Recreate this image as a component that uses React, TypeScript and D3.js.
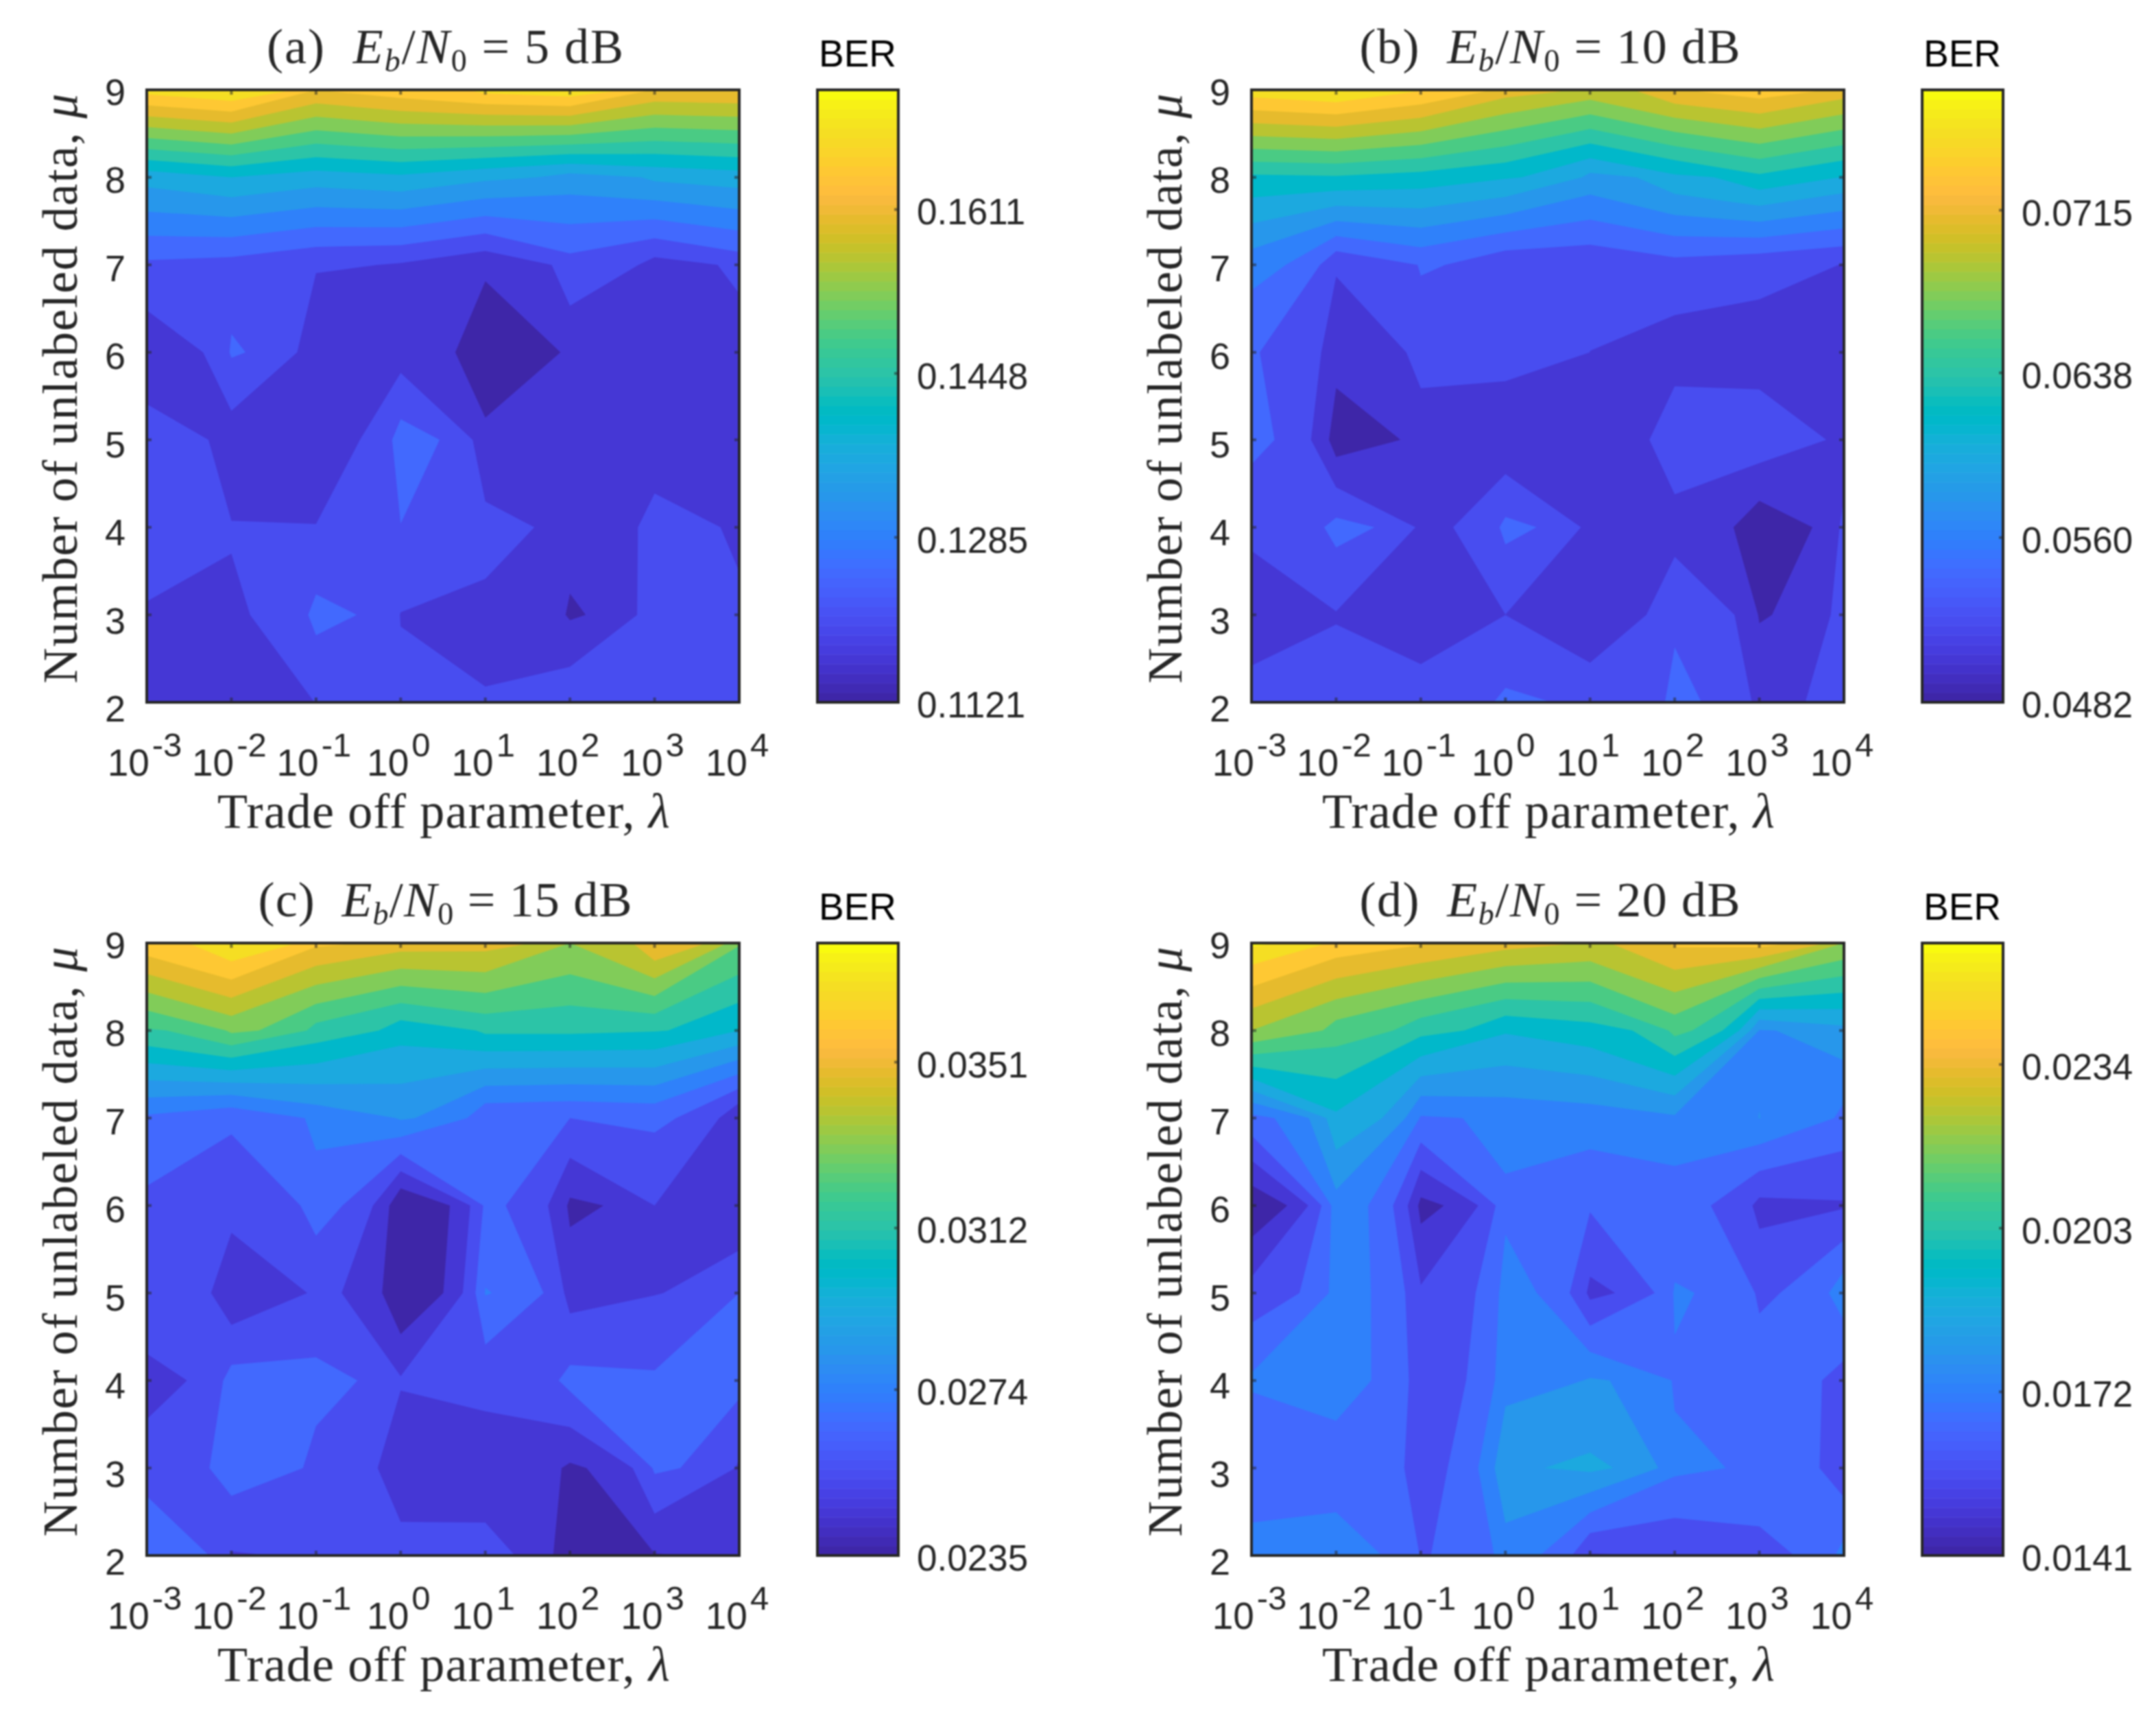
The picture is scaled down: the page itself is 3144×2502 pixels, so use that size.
import React from 'react';
import * as d3 from 'd3';

// rows run from mu = 9 (first) down to mu = 2, columns from lambda 1e-3 to 1e4
const lambdaExp = [-3, -2, -1, 0, 1, 2, 3, 4];
const muTicks = [2, 3, 4, 5, 6, 7, 8, 9];

const berA = [
  0.1706, 0.173, 0.1649, 0.1675, 0.1702, 0.1718, 0.1645, 0.1649,
  0.1381, 0.1405, 0.1385, 0.1397, 0.1373, 0.1348, 0.1373, 0.1385,
  0.1235, 0.1227, 0.1206, 0.1198, 0.117, 0.1227, 0.1186, 0.1218,
  0.1172, 0.1247, 0.1166, 0.1184, 0.1125, 0.1174, 0.1178, 0.117,
  0.1223, 0.118, 0.1182, 0.1261, 0.1174, 0.117, 0.1174, 0.1174,
  0.1231, 0.1204, 0.1203, 0.1242, 0.1214, 0.1176, 0.122, 0.1188,
  0.1197, 0.1198, 0.1255, 0.1201, 0.1194, 0.1157, 0.1235, 0.1216,
  0.1182, 0.1186, 0.1203, 0.121, 0.1204, 0.1233, 0.1223, 0.1227,
];
const berB = [
  0.07638, 0.0772, 0.07541, 0.07233, 0.07078, 0.07329, 0.07445, 0.07252,
  0.06325, 0.06345, 0.06287, 0.0619, 0.0592, 0.06132, 0.06325, 0.06152,
  0.05669, 0.05225, 0.05418, 0.05245, 0.05245, 0.05331, 0.05264, 0.05196,
  0.05409, 0.05088, 0.05274, 0.05283, 0.05206, 0.05115, 0.05119, 0.0509,
  0.05453, 0.04905, 0.0511, 0.05052, 0.0509, 0.05351, 0.05326, 0.05119,
  0.05264, 0.05461, 0.05162, 0.05447, 0.05129, 0.05119, 0.04878, 0.05254,
  0.05052, 0.05196, 0.05071, 0.05206, 0.0509, 0.0538, 0.04999, 0.05312,
  0.05318, 0.05293, 0.05312, 0.05438, 0.05303, 0.05434, 0.05148, 0.0536,
];
const berC = [
  0.03665, 0.0379, 0.03617, 0.0355, 0.0354, 0.03406, 0.03598, 0.0332,
  0.03204, 0.03329, 0.03176, 0.0306, 0.03137, 0.03137, 0.03123, 0.03022,
  0.02715, 0.02652, 0.02768, 0.0284, 0.02652, 0.02638, 0.02657, 0.02441,
  0.02616, 0.02577, 0.02676, 0.0235, 0.02657, 0.02427, 0.02542, 0.02441,
  0.02628, 0.02465, 0.02566, 0.02352, 0.02739, 0.02504, 0.02539, 0.02638,
  0.02504, 0.02676, 0.02664, 0.02552, 0.02568, 0.02667, 0.02651, 0.02667,
  0.0259, 0.02686, 0.02614, 0.02465, 0.02494, 0.02432, 0.02652, 0.02528,
  0.02739, 0.02535, 0.02571, 0.0259, 0.02571, 0.0236, 0.02441, 0.02475,
];
const berD = [
  0.0257, 0.0247, 0.02423, 0.02369, 0.0233, 0.0243, 0.02446, 0.0226,
  0.0226, 0.02144, 0.02052, 0.01959, 0.01997, 0.02129, 0.01793, 0.01851,
  0.01696, 0.01936, 0.01711, 0.01746, 0.01758, 0.01785, 0.01797, 0.01692,
  0.01425, 0.01766, 0.01464, 0.01704, 0.0165, 0.01665, 0.01541, 0.01557,
  0.01596, 0.0175, 0.01575, 0.0175, 0.01545, 0.01727, 0.0163, 0.01773,
  0.01731, 0.01746, 0.01596, 0.01766, 0.01804, 0.01711, 0.01681, 0.01603,
  0.01642, 0.01688, 0.01611, 0.0187, 0.01889, 0.01735, 0.01688, 0.01588,
  0.01766, 0.0175, 0.01638, 0.01753, 0.01557, 0.01572, 0.01619, 0.0175,
];

const rangeA = [0.1121, 0.173];
const rangeB = [0.0482, 0.0772];
const rangeC = [0.0235, 0.0379];
const rangeD = [0.0141, 0.0257];

const barTicksA = [0.1121, 0.1285, 0.1448, 0.1611];
const barTicksB = [0.0482, 0.056, 0.0638, 0.0715];
const barTicksC = [0.0235, 0.0274, 0.0312, 0.0351];
const barTicksD = [0.0141, 0.0172, 0.0203, 0.0234];

const parula = [
  [0.2422, 0.1504, 0.6603], [0.2504, 0.165, 0.7076], [0.2578, 0.1818, 0.7511], [0.2647, 0.1978, 0.7952],
  [0.2706, 0.2147, 0.8364], [0.2751, 0.2342, 0.871], [0.2783, 0.2559, 0.8991], [0.2803, 0.2782, 0.9221],
  [0.2813, 0.3006, 0.9414], [0.281, 0.3228, 0.9579], [0.2795, 0.3447, 0.9717], [0.276, 0.3667, 0.9829],
  [0.2699, 0.3892, 0.9906], [0.2602, 0.4123, 0.9952], [0.244, 0.4358, 0.9988], [0.2206, 0.4603, 0.9973],
  [0.1963, 0.4847, 0.9892], [0.1834, 0.5074, 0.9798], [0.1786, 0.5289, 0.9682], [0.1764, 0.5499, 0.952],
  [0.1687, 0.5703, 0.9359], [0.154, 0.5902, 0.9218], [0.146, 0.6091, 0.9079], [0.138, 0.6276, 0.8973],
  [0.1248, 0.6459, 0.8883], [0.1113, 0.6635, 0.8763], [0.0952, 0.6798, 0.8598], [0.0689, 0.6948, 0.8394],
  [0.0297, 0.7082, 0.8163], [0.0036, 0.7203, 0.7917], [0.0067, 0.7312, 0.766], [0.0433, 0.7411, 0.7394],
  [0.0964, 0.75, 0.712], [0.1408, 0.7584, 0.6842], [0.1717, 0.767, 0.6554], [0.1938, 0.7758, 0.6251],
  [0.2161, 0.7843, 0.5923], [0.247, 0.7918, 0.5567], [0.2906, 0.7973, 0.5188], [0.3406, 0.8008, 0.4789],
  [0.3909, 0.8029, 0.4354], [0.4456, 0.8024, 0.3909], [0.5044, 0.7993, 0.348], [0.5616, 0.7942, 0.3045],
  [0.6174, 0.7876, 0.2612], [0.672, 0.7793, 0.2227], [0.7242, 0.7698, 0.191], [0.7738, 0.7598, 0.1646],
  [0.8203, 0.7498, 0.1535], [0.8634, 0.7406, 0.1596], [0.9035, 0.733, 0.1774], [0.9393, 0.7288, 0.21],
  [0.9728, 0.7298, 0.2394], [0.9956, 0.7434, 0.2371], [0.997, 0.7659, 0.2199], [0.9952, 0.7861, 0.1981],
  [0.9892, 0.8086, 0.1761], [0.9786, 0.8297, 0.1643], [0.9676, 0.8515, 0.1507], [0.961, 0.872, 0.1374],
  [0.9597, 0.8949, 0.1216], [0.9626, 0.92, 0.1062], [0.9691, 0.9467, 0.0856], [0.9763, 0.9831, 0.0538],
].map(c => d3.rgb(c[0] * 255, c[1] * 255, c[2] * 255).formatHex());

const colorAt = (t: number) => parula[Math.min(63, Math.max(0, Math.round(t * 63)))];

const levelCount = 15;
const topLevel = 14.85; // the yellow band starts just under the maximum
const ink = '#262626';
const sans = '"Liberation Sans", Arimo, Helvetica, sans-serif';
const serif = '"Liberation Serif", "Times New Roman", serif';

const plotW = 864;
const plotH = 893;

// a 2x grid only decides saddle cells: the corner values stay as read, and the
// vertices on the helper lines are dropped again after contouring
function doubleGrid(values: number[]) {
  const at = (r: number, c: number) => values[r * 8 + c];
  const out: number[] = [];
  for (let r = 0; r < 15; r++) {
    for (let c = 0; c < 15; c++) {
      const r0 = Math.floor(r / 2), c0 = Math.floor(c / 2);
      const r1 = Math.ceil(r / 2), c1 = Math.ceil(c / 2);
      out.push((at(r0, c0) + at(r0, c1) + at(r1, c0) + at(r1, c1)) / 4);
    }
  }
  return out;
}

const isLine = (g: number) => Math.abs(g - Math.round(g)) < 1e-6;

// contours are straight in linear lambda, the axis is log: warp inside each decade
function warp(g: number) {
  const i = Math.min(6, Math.floor(g));
  return i + Math.log10(1 + 9 * (g - i));
}

function Contour({ values, range, id }: any) {
  const x = d3.scaleLinear().domain([0, 7]).range([0, plotW]);
  const y = d3.scaleLinear().domain([0, 7]).range([0, plotH]);
  const levels = d3.range(levelCount + 1).map(k => {
    return range[0] + (Math.min(k, topLevel) / levelCount) * (range[1] - range[0]);
  });
  const polys = d3.contours().size([15, 15]).smooth(true).thresholds(levels)(doubleGrid(values));
  const ringPath = (ring: number[][]) => {
    const pts: string[] = [];
    ring.forEach(p => {
      const gx = Math.max(0, Math.min(7, (p[0] - 0.5) / 2));
      const gy = Math.max(0, Math.min(7, (p[1] - 0.5) / 2));
      if (isLine(gx) || isLine(gy)) {
        pts.push(`${x(warp(gx)).toFixed(2)},${y(gy).toFixed(2)}`);
      }
    });
    return pts.length ? 'M' + pts.join('L') + 'Z' : '';
  };
  return (
    <g clipPath={`url(#${id})`}>
      <clipPath id={id}>
        <rect width={plotW} height={plotH} />
      </clipPath>
      <rect width={plotW} height={plotH} fill={colorAt(0)} />
      {polys.map((p: any, i: number) => (
        <path
          key={i}
          d={p.coordinates.map((poly: number[][][]) => poly.map(ringPath).join('')).join('')}
          fill={colorAt(i / levelCount)}
          fillRule="evenodd"
        />
      ))}
    </g>
  );
}

function Axes() {
  const x = d3.scalePoint<number>().domain(lambdaExp).range([0, plotW]);
  const y = d3.scaleLinear().domain([2, 9]).range([plotH, 0]);
  const tick = 7;
  return (
    <g>
      {lambdaExp.map(e => (
        <g key={e} stroke={ink} strokeWidth={4} opacity={0.55}>
          <line x1={x(e)} x2={x(e)} y1={plotH} y2={plotH - tick} />
          <line x1={x(e)} x2={x(e)} y1={0} y2={tick} />
        </g>
      ))}
      {muTicks.map(m => (
        <g key={m} stroke={ink} strokeWidth={4} opacity={0.55}>
          <line x1={0} x2={tick} y1={y(m)} y2={y(m)} />
          <line x1={plotW} x2={plotW - tick} y1={y(m)} y2={y(m)} />
        </g>
      ))}
      <rect width={plotW} height={plotH} fill="none" stroke={ink} strokeWidth={4} />
      {lambdaExp.map(e => (
        <text key={e} x={(x(e) as number) - 3} y={plotH + 107} textAnchor="middle" fontFamily={sans} fontSize={55} fill={ink}>
          10
          <tspan dy={-28} dx={4} fontSize={49}>{e}</tspan>
        </text>
      ))}
      {muTicks.map(m => (
        <text key={m} x={-31} y={y(m) + 22 + (9 - m) * 0.9} textAnchor="end" fontFamily={sans} fontSize={54} fill={ink}>
          {m}
        </text>
      ))}
    </g>
  );
}

function ColorBar({ range, ticks }: any) {
  const barX = 978;
  const barW = 118;
  const y = d3.scaleLinear().domain(range).range([plotH, 0]);
  const steps = d3.scaleBand<number>().domain(d3.range(64)).range([plotH, 0]);
  return (
    <g transform={`translate(${barX},0)`}>
      {parula.map((c, i) => (
        <rect key={i} x={0} y={steps(i)} width={barW} height={steps.bandwidth() + 0.5} fill={c} />
      ))}
      {ticks.map((t: number) => (
        <line key={t} x1={barW} x2={barW - 6} y1={y(t)} y2={y(t)} stroke={ink} strokeWidth={4} opacity={0.55} />
      ))}
      <rect width={barW} height={plotH} fill="none" stroke={ink} strokeWidth={4} />
      {ticks.map((t: number) => (
        <text key={t} x={barW + 27} y={y(t) + 22} fontFamily={sans} fontSize={53} fill={ink}>
          {t.toFixed(4)}
        </text>
      ))}
      <text x={2} y={-34} fontFamily={sans} fontSize={55} fill="#000">BER</text>
    </g>
  );
}

function Panel({ left, top, letter, snr, titleLen, values, range, ticks, id }: any) {
  return (
    <g transform={`translate(${left},${top})`}>
      <Contour values={values} range={range} id={id} />
      <Axes />
      <ColorBar range={range} ticks={ticks} />
      <text x={plotW / 2 + 3} y={-39} textAnchor="middle" fontFamily={serif} fontSize={72} fill={ink} textLength={titleLen} lengthAdjust="spacing" xmlSpace="preserve">
        ({letter}){'  '}
        <tspan fontStyle="italic">E</tspan>
        <tspan dy={12} fontSize={46} fontStyle="italic">b</tspan>
        <tspan dy={-12}>/</tspan>
        <tspan fontStyle="italic">N</tspan>
        <tspan dy={12} fontSize={46}>0</tspan>
        <tspan dy={-12}> = {snr} dB</tspan>
      </text>
      <text x={plotW / 2 + 1} y={plotH + 183} textAnchor="middle" fontFamily={serif} fontSize={72} fill={ink} textLength={660} lengthAdjust="spacing">
        Trade off parameter, <tspan fontStyle="italic">λ</tspan>
      </text>
      <text transform={`translate(-102,${plotH / 2 - 11}) rotate(-90)`} textAnchor="middle" fontFamily={serif} fontSize={72} fill={ink} textLength={860} lengthAdjust="spacing">
        Number of unlabeled data, <tspan fontStyle="italic">μ</tspan>
      </text>
    </g>
  );
}

export default function App() {
  return (
    <svg
      width={3144}
      height={2502}
      style={{ position: 'absolute', left: 0, top: 0, background: '#fff', filter: 'blur(0.8px)' }}
    >
      <Panel left={214} top={131} letter="a" snr={5} titleLen={520} values={berA} range={rangeA} ticks={barTicksA} id="clipA" />
      <Panel left={1825} top={131} letter="b" snr={10} titleLen={555} values={berB} range={rangeB} ticks={barTicksB} id="clipB" />
      <Panel left={214} top={1375} letter="c" snr={15} titleLen={545} values={berC} range={rangeC} ticks={barTicksC} id="clipC" />
      <Panel left={1825} top={1375} letter="d" snr={20} titleLen={555} values={berD} range={rangeD} ticks={barTicksD} id="clipD" />
    </svg>
  );
}
